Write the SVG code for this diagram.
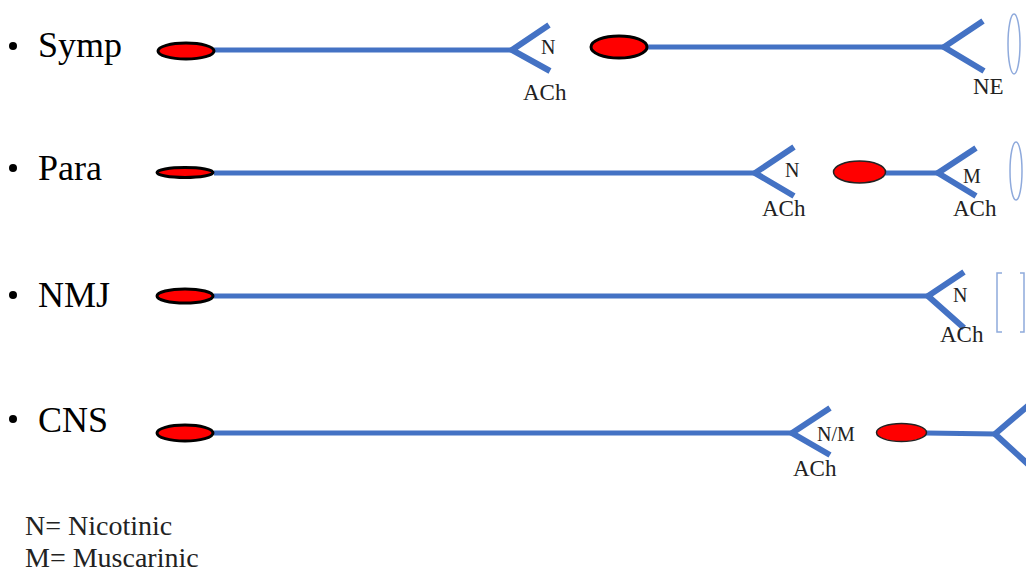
<svg xmlns="http://www.w3.org/2000/svg" width="1026" height="572" viewBox="0 0 1026 572">
<style>
.axon{stroke:#4472C4;stroke-width:5;fill:none}
.arm{stroke:#4472C4;stroke-width:6;fill:none;stroke-linecap:butt}
.soma{fill:#FF0000;stroke:#000;stroke-width:3}
.soma2{fill:#FF0000;stroke:#222;stroke-width:1.5}
.target{fill:none;stroke:#8FAADC;stroke-width:1.5}
text{font-family:'Liberation Serif','Times New Roman','DejaVu Serif',serif;fill:#222}
.big{font-size:36px;fill:#000}
.lab{font-size:23px}
.sm{font-size:20px}
.leg{font-size:28px}
</style>
<rect width="1026" height="572" fill="#fff"/>
<g id="titles">
<circle cx="13" cy="46" r="4" fill="#000"/>
<text class="big" x="38" y="57">Symp</text>
<circle cx="13" cy="168" r="4" fill="#000"/>
<text class="big" x="38" y="180">Para</text>
<circle cx="13" cy="295" r="4" fill="#000"/>
<text class="big" x="38" y="307">NMJ</text>
<circle cx="13" cy="419" r="4" fill="#000"/>
<text class="big" x="38" y="432">CNS</text>
</g>
<g id="connectors">
<line class="axon" x1="214" y1="50" x2="513" y2="50"/>
<line class="axon" x1="646" y1="47" x2="945" y2="47"/>
<line class="axon" x1="214" y1="173" x2="756" y2="173"/>
<line class="axon" x1="885" y1="173" x2="939" y2="173"/>
<line class="axon" x1="214" y1="296" x2="929" y2="296"/>
<line class="axon" x1="214" y1="433" x2="793" y2="433"/>
<line class="axon" x1="926" y1="433" x2="996" y2="434"/>
</g>
<g id="symp-pre">
<ellipse class="soma" cx="186" cy="51" rx="28" ry="8"/>
<polyline class="arm" points="549,25 512,50 550,71"/>
<text class="sm" x="541" y="54">N</text>
<text class="lab" x="523" y="100">ACh</text>
</g>
<g id="symp-post">
<ellipse class="soma" cx="619" cy="47" rx="28" ry="11"/>
<polyline class="arm" points="983,21 944,47 984,71"/>
<text class="lab" x="973" y="94">NE</text>
<ellipse class="target" cx="1014" cy="44" rx="6" ry="30"/>
</g>
<g id="para-pre">
<ellipse class="soma" cx="185" cy="172.5" rx="28" ry="5"/>
<polyline class="arm" points="794,147 755,173 794,196"/>
<text class="sm" x="785" y="177">N</text>
<text class="lab" x="762" y="216">ACh</text>
</g>
<g id="para-post">
<ellipse class="soma2" cx="859.5" cy="172" rx="26" ry="11"/>
<polyline class="arm" points="976,148 938,173 976,196"/>
<text class="sm" x="963" y="183">M</text>
<text class="lab" x="953" y="216">ACh</text>
<ellipse class="target" cx="1016" cy="171" rx="6" ry="29"/>
</g>
<g id="nmj">
<ellipse class="soma" cx="185" cy="296" rx="28" ry="7"/>
<polyline class="arm" points="964,272 928,296 964,328"/>
<text class="sm" x="953" y="302">N</text>
<text class="lab" x="940" y="342">ACh</text>
<path class="target" d="M1002,273 H997 V332 H1002 M1020,273 H1024 V332 H1020"/>
</g>
<g id="cns-pre">
<ellipse class="soma" cx="185" cy="433" rx="28" ry="8"/>
<polyline class="arm" points="830,408 792,433 830,455"/>
<text class="sm" x="817" y="441">N/M</text>
<text class="lab" x="793" y="476">ACh</text>
</g>
<g id="cns-post">
<ellipse class="soma2" cx="901.5" cy="432.5" rx="25" ry="9"/>
<polyline class="arm" points="1030,404 995,434 1030,466"/>
</g>
<g id="legend">
<text class="leg" x="25" y="535">N= Nicotinic</text>
<text class="leg" x="25" y="567">M= Muscarinic</text>
</g>
</svg>
